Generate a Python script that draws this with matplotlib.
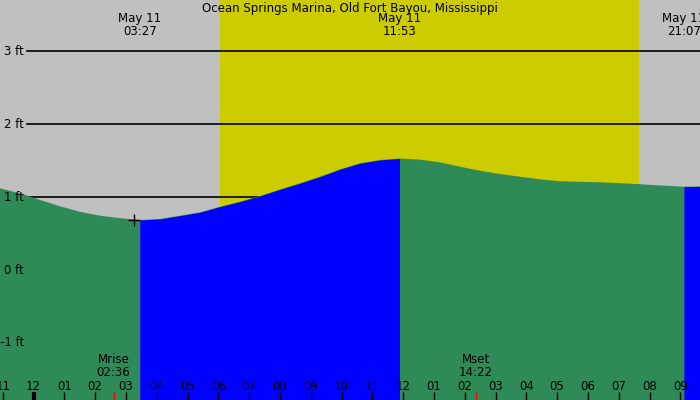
import matplotlib
matplotlib.use("Agg")
import matplotlib.pyplot as plt
import numpy as np

title = "Ocean Springs Marina, Old Fort Bayou, Mississippi"

# tide readings (hours since midnight May 11, feet)
hours = [-1.088, -0.438, 0.211, 0.860, 1.510, 2.159, 2.808, 3.45,
         4.107, 4.756, 5.406, 6.055, 6.705, 7.354, 8.003, 8.653, 9.302, 9.951,
         10.600, 11.250, 11.883,
         12.549, 13.198, 13.847, 14.497, 15.146, 15.795, 16.445, 17.094, 17.744,
         18.393, 19.042, 19.692, 20.341, 21.117, 21.640]
heights = [1.119, 1.051, 0.960, 0.873, 0.797, 0.744, 0.710, 0.685,
           0.699, 0.744, 0.790, 0.867, 0.936, 1.014, 1.103, 1.188, 1.278, 1.379,
           1.462, 1.507, 1.527,
           1.511, 1.475, 1.415, 1.360, 1.315, 1.278, 1.242, 1.216, 1.208,
           1.201, 1.190, 1.175, 1.158, 1.141, 1.145]

extreme_hours = [3.45, 11.883, 21.117]
extreme_labels = ["May 11\n03:27", "May 11\n11:53", "May 11\n21:07"]
low_marker = (3.27, 0.68)

sunrise, sunset = 6.06, 19.66
moon_events = [(2.6, "Mrise\n02:36"), (14.367, "Mset\n14:22")]

tick_hours = list(range(-1, 22))
tick_labels = ["11", "12", "01", "02", "03", "04", "05", "06", "07", "08", "09", "10", "11",
               "12", "01", "02", "03", "04", "05", "06", "07", "08", "09"]

levels = [3, 2, 1, 0, -1]
level_labels = ["3 ft", "2 ft", "1 ft", "0 ft", "-1 ft"]

BG = "#c0c0c0"
DAY = "#cccc00"
FALL = "#2e8b57"
RISE = "#0000ff"
FS = 8.5

px_per_hr = 30.8
x0 = -33.5 / px_per_hr
x1 = (700 - 33.5) / px_per_hr
y0 = -130 / 73
y1 = 270 / 73


def py(p):
    return (270 - p) / 73


fig = plt.figure(figsize=(7, 4), dpi=100)
ax = fig.add_axes([0, 0, 1, 1])
ax.set_xlim(x0, x1)
ax.set_ylim(y0, y1)
ax.axis("off")
ax.add_patch(plt.Rectangle((x0, y0), x1 - x0, y1 - y0, color=BG, zorder=0))
ax.axvspan(sunrise, sunset, color=DAY, zorder=0.5, lw=0)

for lv, lab in zip(levels, level_labels):
    ax.axhline(lv, xmin=27 / 700, xmax=1, color="black", lw=1.2, zorder=1)
    ax.text(x0 + 24 / px_per_hr, lv, lab, ha="right", va="center", fontsize=FS, zorder=5)

h = np.array(hours)
v = np.array(heights)
ax.fill_between(h, v, y0, color=FALL, lw=0, zorder=2)
bounds = [h[0]] + extreme_hours + [h[-1]]
for a, b in zip(bounds[:-1], bounds[1:]):
    m = (h >= a) & (h <= b)
    hs, vs = h[m], v[m]
    if vs[-1] > vs[0]:
        ax.fill_between(hs, vs, y0, color=RISE, lw=0, zorder=2.5)

ax.plot([low_marker[0]], [low_marker[1]], marker="+", color="black", ms=9, mew=1, zorder=3)

ax.text((x0 + x1) / 2, py(8), title, ha="center", va="center", fontsize=FS, zorder=4)
for eh, lab in zip(extreme_hours, extreme_labels):
    ax.text(eh, py(25), lab, ha="center", va="center", fontsize=FS, linespacing=0.98,
            zorder=4)

for th, tl in zip(tick_hours, tick_labels):
    ax.text(th, py(386), tl, ha="center", va="center", fontsize=FS, zorder=4)
    lw = 3 if th == 0 else 1
    ax.plot([th, th], [py(392), y0], color="black", lw=lw, zorder=4, solid_capstyle="butt")

for mh, lab in moon_events:
    ax.text(mh, py(366), lab, ha="center", va="center", fontsize=FS, linespacing=0.98,
            zorder=4)
    ax.plot([mh, mh], [py(392), y0], color="red", lw=1, zorder=4, solid_capstyle="butt")

fig.savefig("out.png", dpi=100)
